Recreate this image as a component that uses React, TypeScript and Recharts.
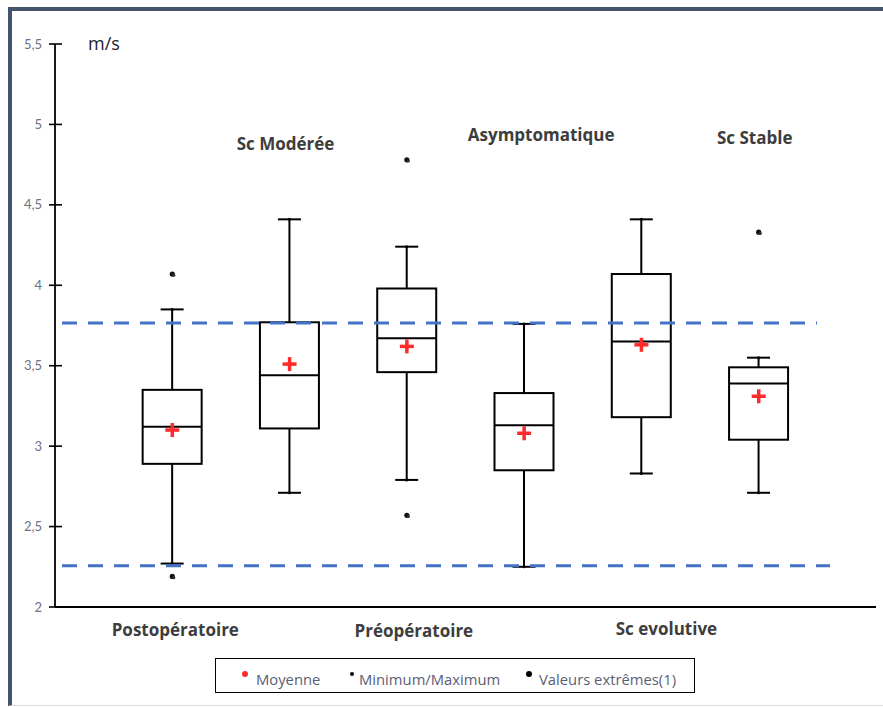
import React from 'react';
import { ComposedChart, Bar, Scatter, XAxis, YAxis, ReferenceLine, Legend } from 'recharts';

// ---- data ----
const categories = ['Postopératoire', 'Sc Modérée', 'Préopératoire', 'Asymptomatique', 'Sc evolutive', 'Sc Stable'];
const whiskerLow = [2.27, 2.71, 2.79, 2.25, 2.83, 2.71];
const q1 = [2.89, 3.11, 3.46, 2.85, 3.18, 3.04];
const median = [3.12, 3.44, 3.67, 3.13, 3.65, 3.39];
const q3 = [3.35, 3.77, 3.98, 3.33, 4.07, 3.49];
const whiskerHigh = [3.85, 4.41, 4.24, 3.76, 4.41, 3.55];
const means = [3.10, 3.51, 3.62, 3.08, 3.63, 3.31];
const outlierHigh: (number | null)[] = [4.07, null, 4.78, null, null, 4.33];
const outlierLow: (number | null)[] = [2.19, null, 2.57, null, null, null];
const yTicks = [2, 2.5, 3, 3.5, 4, 4.5, 5, 5.5];
const thresholdHigh = 3.765;
const thresholdLow = 2.257;
const legendLabels = ['Moyenne', 'Minimum/Maximum', 'Valeurs extrêmes(1)'];

// ---- layout / style (not data) ----
const labelDx = [3, -4, 7, 17, 25, -4];
const labelY = [636, 150, 637, 141, 635, 144];
const BOX_W = 59;
const CAP_W = 23;
const legendPos = [
  { dot: 29, text: 40, r: 3, color: '#ff2b2b' },
  { dot: 136, text: 143, r: 2, color: '#000' },
  { dot: 313, text: 323, r: 3, color: '#000' },
];

const data = categories.map((name, i) => ({
  name,
  lower: [whiskerLow[i], q1[i]],
  box: [q1[i], q3[i]],
  upper: [q3[i], whiskerHigh[i]],
  median: median[i],
  mean: means[i],
  outHigh: outlierHigh[i],
  outLow: outlierLow[i],
}));

const norm = (p: any) => {
  const top = Math.min(p.y, p.y + p.height);
  const bottom = Math.max(p.y, p.y + p.height);
  return { cx: p.x + p.width / 2, top, bottom, left: p.x, w: p.width };
};

const UpperWhisker = (p: any) => {
  const { cx, top, bottom } = norm(p);
  return (
    <g>
      <line x1={cx} x2={cx} y1={top} y2={bottom} stroke="#000" strokeWidth={2} />
      <line x1={cx - CAP_W / 2} x2={cx + CAP_W / 2} y1={top} y2={top} stroke="#000" strokeWidth={2} />
      <circle cx={cx} cy={top} r={1.5} fill="#000" />
    </g>
  );
};

const LowerWhisker = (p: any) => {
  const { cx, top, bottom } = norm(p);
  return (
    <g>
      <line x1={cx} x2={cx} y1={top} y2={bottom} stroke="#000" strokeWidth={2} />
      <line x1={cx - CAP_W / 2} x2={cx + CAP_W / 2} y1={bottom} y2={bottom} stroke="#000" strokeWidth={2} />
      <circle cx={cx} cy={bottom} r={1.5} fill="#000" />
    </g>
  );
};

const BoxShape = (p: any) => {
  const { top, bottom, left, w } = norm(p);
  return <rect x={left} y={top} width={w} height={bottom - top} fill="none" stroke="#000" strokeWidth={2} />;
};

const MedianShape = (p: any) => (
  <line x1={p.cx - BOX_W / 2} x2={p.cx + BOX_W / 2} y1={p.cy} y2={p.cy} stroke="#000" strokeWidth={2} />
);

const MeanShape = (p: any) => (
  <g>
    <line x1={p.cx - 7} x2={p.cx + 7} y1={p.cy} y2={p.cy} stroke="#ff2b2b" strokeWidth={3.5} />
    <line x1={p.cx} x2={p.cx} y1={p.cy - 7} y2={p.cy + 7} stroke="#ff2b2b" strokeWidth={3.5} />
  </g>
);

const makeOutlier = (key: string) => (p: any) => {
  if (!p.payload || p.payload[key] == null) return <g />;
  return (
    <g>
      <circle cx={p.cx} cy={p.cy} r={2.6} fill="#111" />
      <circle cx={p.cx + 1.5} cy={p.cy + 1.2} r={1.6} fill="#333" />
    </g>
  );
};

const makeDashed = (insetLeft: number, insetRight: number) => (p: any) => (
  <line
    x1={p.x1 + insetLeft}
    x2={p.x2 - insetRight}
    y1={p.y1}
    y2={p.y2}
    stroke="#4472C4"
    strokeWidth={3}
    strokeDasharray="15 11"
  />
);

const YTick = (p: any) => {
  const { x, y, payload } = p;
  return (
    <g>
      <line x1={x - 6} x2={x + 7} y1={y} y2={y} stroke="#000" strokeWidth={1.6} />
      <text x={x - 13} y={y} dy={4.5} textAnchor="end" fontSize={13} fill="#6b7182" fontFamily="Lato">
        {String(payload.value).replace('.', ',')}
      </text>
    </g>
  );
};

const XTick = (p: any) => {
  const { x, payload } = p;
  const i = payload.index ?? p.index ?? 0;
  return (
    <text x={x + labelDx[i]} y={labelY[i]} textAnchor="middle" fontFamily="Open Sans" fontWeight={700} fontSize={17} fill="#3d3d3d">
      {payload.value}
    </text>
  );
};

const UnitLabel = (p: any) => {
  const vb = p.viewBox || { x: 10, y: 44, width: 45 };
  return (
    <text x={vb.x + vb.width + 33} y={vb.y + 6} fontFamily="Open Sans" fontSize={18} fill="#1c1c2e">
      m/s
    </text>
  );
};

const LegendBox = () => (
  <div
    style={{
      width: 480,
      height: 35,
      border: '1.5px solid #000',
      boxSizing: 'border-box',
      position: 'relative',
      fontFamily: 'Open Sans',
      fontSize: 14.8,
      color: '#596074',
      background: '#fff',
    }}
  >
    {legendLabels.map((l, i) => (
      <React.Fragment key={l}>
        <svg width={10} height={10} style={{ position: 'absolute', left: legendPos[i].dot - 5, top: 10 }}>
          <circle cx={5} cy={5} r={legendPos[i].r} fill={legendPos[i].color} />
        </svg>
        <span style={{ position: 'absolute', left: legendPos[i].text, top: 11, lineHeight: '18px', whiteSpace: 'nowrap' }}>{l}</span>
      </React.Fragment>
    ))}
  </div>
);

export default function App() {
  return (
    <div style={{ position: 'absolute', left: 0, top: 0, width: 883, height: 707, background: '#fff' }}>
      <div
        style={{
          position: 'absolute',
          left: 8,
          top: 7,
          width: 875,
          height: 699,
          borderLeft: '4px solid #44546a',
          borderTop: '4px solid #44546a',
          borderBottom: '1px solid #d9d9e0',
          boxSizing: 'border-box',
        }}
      />
      <div style={{ position: 'absolute', left: 0, top: 0 }}>
        <ComposedChart
          width={883}
          height={707}
          data={data}
          margin={{ top: 44, right: 7, left: 10, bottom: 70 }}
          barGap={-BOX_W}
          barSize={BOX_W}
        >
          <XAxis
            dataKey="name"
            type="category"
            padding={{ left: 58.65, right: 58.65 }}
            tickLine={false}
            tickSize={0}
            tickMargin={0}
            height={30}
            interval={0}
            axisLine={{ stroke: '#000', strokeWidth: 2 }}
            tick={<XTick />}
          />
          <YAxis
            type="number"
            domain={[2, 5.5]}
            ticks={yTicks}
            interval={0}
            width={45}
            tickLine={false}
            tickSize={0}
            tickMargin={0}
            axisLine={{ stroke: '#000', strokeWidth: 1.8 }}
            tick={<YTick />}
            label={<UnitLabel />}
          />
          <Bar dataKey="lower" shape={<LowerWhisker />} isAnimationActive={false} />
          <Bar dataKey="box" shape={<BoxShape />} isAnimationActive={false} />
          <Bar dataKey="upper" shape={<UpperWhisker />} isAnimationActive={false} />
          <Scatter dataKey="median" shape={<MedianShape />} isAnimationActive={false} />
          <Scatter dataKey="mean" shape={<MeanShape />} isAnimationActive={false} />
          <Scatter dataKey="outHigh" shape={makeOutlier('outHigh')} isAnimationActive={false} />
          <Scatter dataKey="outLow" shape={makeOutlier('outLow')} isAnimationActive={false} />
          <ReferenceLine y={thresholdHigh} shape={makeDashed(7, 59)} ifOverflow="visible" />
          <ReferenceLine y={thresholdLow} shape={makeDashed(7, 46)} ifOverflow="visible" />
          <Legend
            layout="horizontal"
            verticalAlign="middle"
            align="center"
            wrapperStyle={{ left: 215, top: 658, width: 480, height: 35 }}
            content={<LegendBox />}
          />
        </ComposedChart>
      </div>
    </div>
  );
}
